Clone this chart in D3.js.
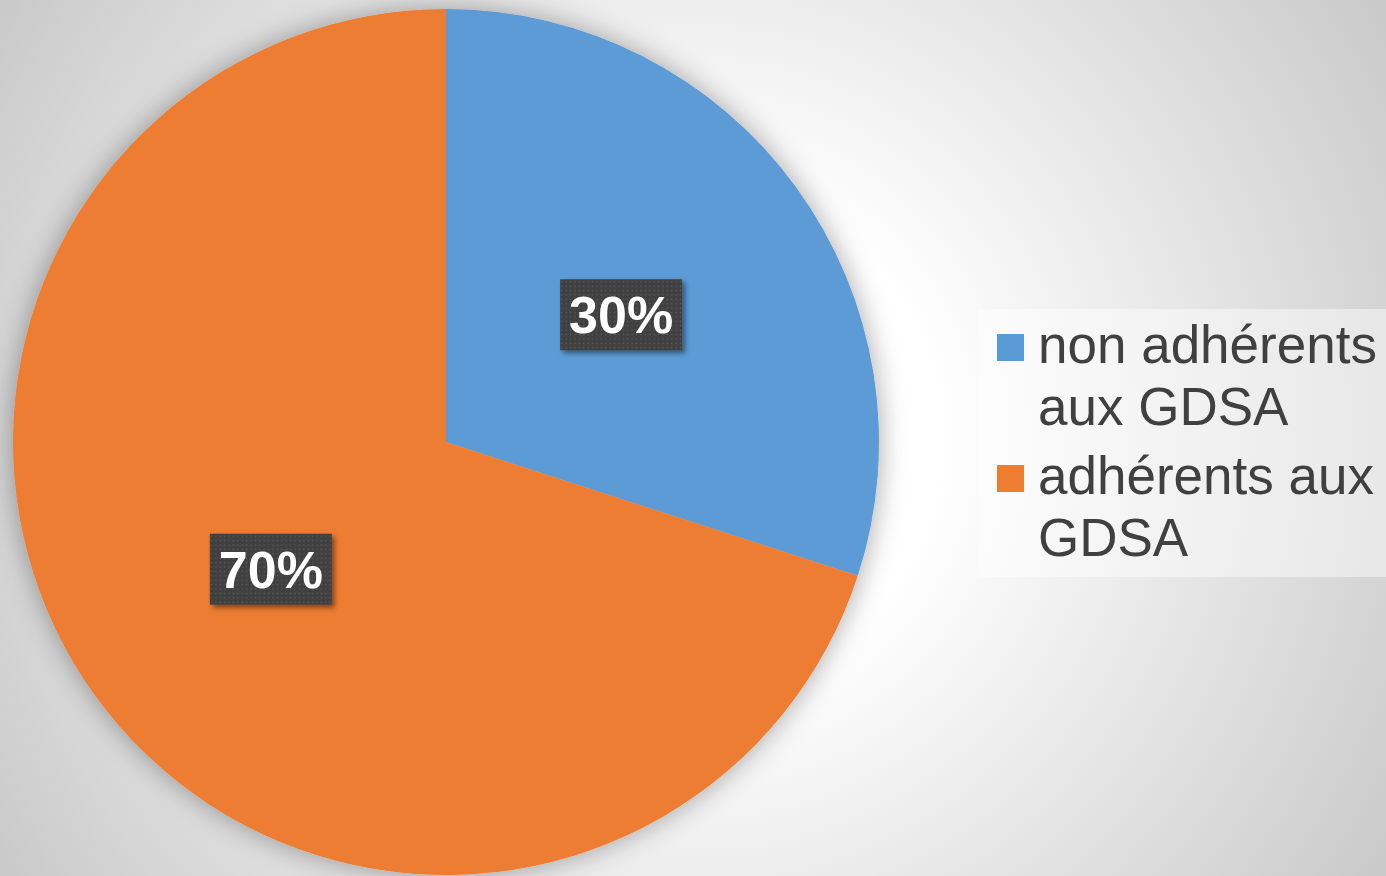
<!DOCTYPE html>
<html>
<head>
<meta charset="utf-8">
<script src="https://cdn.jsdelivr.net/npm/d3@7"></script>
<style>
  html, body { margin: 0; padding: 0; background: #fff; }
  svg { display: block; }
</style>
</head>
<body>
<div id="pieChart"></div>
<script>
// data
var categories = ["non adhérents aux GDSA", "adhérents aux GDSA"];
var legendLines = [["non adhérents", "aux GDSA"], ["adhérents aux", "GDSA"]];
var values = [30, 70];
var colors = ["#5b9bd5", "#ed7d31"];

var W = 1386, H = 876;
var svg = d3.select("#pieChart").append("svg").attr("width", W).attr("height", H);
var defs = svg.append("defs");

// background gradient
var bg = defs.append("radialGradient").attr("id", "bgGrad")
    .attr("gradientUnits", "userSpaceOnUse")
    .attr("cx", 693).attr("cy", 438).attr("r", 820);
bg.append("stop").attr("offset", "0").attr("stop-color", "#ffffff");
bg.append("stop").attr("offset", "0.3").attr("stop-color", "#ffffff");
bg.append("stop").attr("offset", "1").attr("stop-color", "#c9c9c9");
svg.append("rect").attr("width", W).attr("height", H).attr("fill", "url(#bgGrad)");

// soft shadow around pie
var pieShadow = defs.append("filter").attr("id", "pieShadow")
    .attr("x", "-20%").attr("y", "-20%").attr("width", "140%").attr("height", "140%");
pieShadow.append("feDropShadow").attr("dx", 0).attr("dy", 0)
    .attr("stdDeviation", 14).attr("flood-color", "#000").attr("flood-opacity", 0.35);

var lblShadow = defs.append("filter").attr("id", "lblShadow")
    .attr("x", "-20%").attr("y", "-20%").attr("width", "150%").attr("height", "150%");
lblShadow.append("feDropShadow").attr("dx", 3).attr("dy", 3)
    .attr("stdDeviation", 2.5).attr("flood-color", "#000").attr("flood-opacity", 0.45);

// dotted pattern for the label boxes
var pat = defs.append("pattern").attr("id", "dots")
    .attr("patternUnits", "userSpaceOnUse").attr("width", 4.4).attr("height", 4.4);
pat.append("rect").attr("width", 4.4).attr("height", 4.4).attr("fill", "#404040");
pat.append("rect").attr("x", 1.5).attr("y", 1.5).attr("width", 1.4).attr("height", 1.4).attr("fill", "#5a5a5a");

var cx = 446, cy = 442, radius = 433;
var g = svg.append("g").attr("transform", "translate(" + cx + "," + cy + ")");

var pie = d3.pie().sort(null).value(function(d) { return d; });
var arc = d3.arc().innerRadius(0).outerRadius(radius);
var arcs = pie(values);
var total = d3.sum(values);

g.append("g").attr("filter", "url(#pieShadow)")
  .selectAll("path")
  .data(arcs)
  .enter().append("path")
    .attr("d", arc)
    .attr("fill", function(d, i) { return colors[i]; });

// data labels
var boxW = 122, boxH = 71;
var labels = g.selectAll(".lbl")
  .data(arcs)
  .enter().append("g")
    .attr("class", "lbl")
    .attr("transform", function(d) { var c = arc.centroid(d); return "translate(" + c[0] + "," + c[1] + ")"; });

labels.append("rect")
    .attr("x", -boxW / 2).attr("y", -boxH / 2)
    .attr("width", boxW).attr("height", boxH)
    .attr("fill", "url(#dots)")
    .attr("filter", "url(#lblShadow)");

labels.append("text")
    .attr("text-anchor", "middle")
    .attr("dy", "0.36em")
    .attr("fill", "#fff")
    .attr("font-family", "'Liberation Sans', Arial, sans-serif")
    .attr("font-weight", "bold")
    .attr("font-size", 52)
    .text(function(d) { return Math.round(d.value / total * 100) + "%"; });

// legend
var legend = svg.append("g").attr("transform", "translate(978,309)");
legend.append("rect").attr("width", 408).attr("height", 268)
    .attr("fill", "#ffffff").attr("fill-opacity", 0.45);

var item = legend.selectAll(".item")
  .data(categories)
  .enter().append("g")
    .attr("class", "item")
    .attr("transform", function(d, i) { return "translate(0," + (54 + i * 131) + ")"; });

item.append("rect")
    .attr("x", 19).attr("y", -29)
    .attr("width", 27).attr("height", 27)
    .attr("fill", function(d, i) { return colors[i]; });

item.append("text")
    .attr("x", 60)
    .attr("fill", "#404040")
    .attr("font-family", "'Liberation Sans', Arial, sans-serif")
    .attr("font-size", 53)
  .selectAll("tspan")
  .data(function(d, i) { return legendLines[i]; })
  .enter().append("tspan")
    .attr("x", 60)
    .attr("y", function(d, j) { return j * 62; })
    .text(function(d) { return d; });
</script>
</body>
</html>
